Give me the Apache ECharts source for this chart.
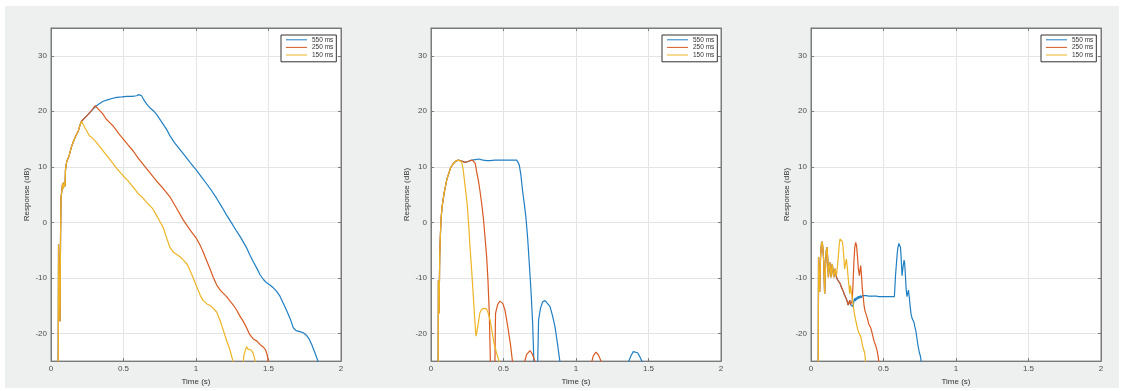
<!DOCTYPE html>
<html>
<head>
<meta charset="utf-8">
<script src="https://cdn.jsdelivr.net/npm/echarts@6/dist/echarts.min.js"></script>
<style>
html,body{margin:0;padding:0;background:#ffffff;}
#bg{position:absolute;left:5px;top:6px;width:1114px;height:382px;background:#eef0f0;}
#chart{position:absolute;left:0;top:0;width:1123px;height:391px;}
</style>
</head>
<body>
<div id="bg"></div>
<div id="chart"></div>
<script>
// ---------- DATA ----------
const seriesNames = ['550 ms', '250 ms', '150 ms'];
const xTicks = [0, 0.5, 1, 1.5, 2];
const yTicks = [-20, -10, 0, 10, 20, 30];

// Panel 1
const p1Rise = [[0.049,-40],[0.052,-4],[0.057,-12],[0.062,-17.8],[0.066,-2],[0.069,4.4],[0.074,5.5],[0.08,7],[0.085,6],[0.09,7.2],[0.097,6.5],[0.1,9.5],[0.108,10.9],[0.115,11.2],[0.125,12],[0.14,13.5],[0.154,14.5],[0.17,15.5],[0.189,16.5],[0.2,17.5],[0.21,18.2]];
const p1_550 = [[0.22,18.5],[0.24,19.0],[0.269,19.8],[0.29,20.4],[0.31,20.9],[0.33,21.3],[0.36,21.8],[0.384,22.0],[0.42,22.3],[0.453,22.5],[0.49,22.6],[0.522,22.7],[0.56,22.7],[0.591,22.8],[0.605,23.0],[0.614,23.2],[0.625,22.8],[0.637,22.2],[0.66,21.3],[0.683,20.6],[0.71,20.0],[0.729,19.4],[0.75,18.6],[0.775,17.6],[0.8,16.6],[0.82,15.6],[0.85,14.4],[0.89,13.1],[0.92,12.1],[0.959,10.8],[1.005,9.3],[1.04,8.1],[1.074,6.9],[1.11,5.6],[1.143,4.3],[1.18,2.7],[1.211,1.3],[1.245,-0.1],[1.28,-1.6],[1.31,-2.8],[1.349,-4.6],[1.37,-5.8],[1.395,-7.1],[1.42,-8.3],[1.441,-9.4],[1.465,-10.3],[1.487,-10.9],[1.51,-11.3],[1.533,-11.8],[1.555,-12.4],[1.579,-13.3],[1.6,-14.5],[1.625,-15.9],[1.65,-17.4],[1.671,-19.0],[1.69,-19.5],[1.717,-19.7],[1.74,-19.9],[1.763,-20.4],[1.78,-21.0],[1.798,-22.0],[1.82,-23.5],[1.844,-25.2],[1.87,-32]];
const p1_250 = [[0.22,18.5],[0.24,19.0],[0.269,19.8],[0.29,20.5],[0.305,21.0],[0.315,20.9],[0.33,20.3],[0.345,19.9],[0.361,19.4],[0.38,18.6],[0.407,17.9],[0.43,17.3],[0.453,16.5],[0.47,15.9],[0.499,15.0],[0.53,14.0],[0.568,12.8],[0.6,11.6],[0.637,10.4],[0.68,9.0],[0.729,7.4],[0.77,6.2],[0.82,4.6],[0.86,2.8],[0.913,0.4],[0.96,-1.4],[1.005,-3.0],[1.03,-4.2],[1.05,-5.4],[1.075,-7.0],[1.097,-8.4],[1.12,-10.0],[1.143,-11.3],[1.17,-12.3],[1.211,-13.4],[1.235,-14.2],[1.257,-14.9],[1.28,-15.8],[1.303,-16.9],[1.325,-17.8],[1.349,-19.0],[1.37,-20.2],[1.395,-21.0],[1.42,-21.4],[1.441,-22.0],[1.465,-22.5],[1.48,-23.0],[1.492,-24],[1.5,-25.5],[1.52,-32]];
const p1_150 = [[0.22,17.9],[0.235,17],[0.246,16.5],[0.265,15.6],[0.28,15.3],[0.292,15.0],[0.31,14.5],[0.338,13.6],[0.37,12.5],[0.407,11.3],[0.45,9.8],[0.5,8.3],[0.53,7.5],[0.568,6.3],[0.6,5.2],[0.63,4.5],[0.66,3.6],[0.7,2.5],[0.729,1.2],[0.75,0.2],[0.775,-1.0],[0.8,-3],[0.82,-4.5],[0.845,-5.4],[0.867,-5.8],[0.89,-6.2],[0.913,-6.8],[0.94,-7.6],[0.959,-8.7],[0.98,-10],[1.005,-11.6],[1.03,-13.2],[1.05,-14.1],[1.075,-14.7],[1.097,-15.0],[1.12,-15.5],[1.143,-16.2],[1.165,-17.6],[1.189,-19.5],[1.21,-21.2],[1.234,-23],[1.26,-25.5],[1.29,-30],[1.32,-27],[1.33,-24],[1.343,-22.8],[1.35,-22.4],[1.36,-22.9],[1.37,-23.2],[1.38,-23.0],[1.395,-23.6],[1.41,-25.2],[1.43,-30]];

// Panel 2
const p2Rise = [[0.049,-40],[0.051,-10.5],[0.056,-16.4],[0.06,-6],[0.068,0],[0.075,2.5],[0.09,5.2],[0.1,6.5],[0.11,7.8],[0.12,8.6],[0.135,9.8],[0.154,10.6],[0.17,11.0],[0.189,11.2]];
const p2_550 = [[0.2,11.2],[0.215,11.0],[0.234,10.8],[0.25,10.9],[0.269,11.1],[0.285,11.2],[0.297,11.3],[0.305,11.3],[0.315,11.5],[0.33,11.4],[0.345,11.3],[0.361,11.2],[0.385,11.1],[0.407,11.1],[0.44,11.2],[0.47,11.2],[0.499,11.2],[0.53,11.2],[0.56,11.2],[0.591,11.2],[0.6,10.8],[0.609,10.3],[0.62,8.5],[0.632,5.6],[0.645,3],[0.655,0.8],[0.667,-3],[0.678,-7.5],[0.69,-12.5],[0.701,-18.2],[0.71,-25.5],[0.72,-40],[0.732,-40],[0.736,-25],[0.742,-17.6],[0.755,-15.5],[0.77,-14.3],[0.786,-14.1],[0.8,-14.5],[0.821,-15.2],[0.838,-16.8],[0.855,-18.8],[0.872,-21.8],[0.89,-25.3],[0.91,-40],[1.34,-40],[1.361,-25.2],[1.38,-24],[1.395,-23.3],[1.407,-23.1],[1.425,-23.5],[1.44,-24.2],[1.46,-25.3],[1.48,-40]];
const p2_250 = [[0.2,11.2],[0.215,11.0],[0.234,10.8],[0.25,10.9],[0.269,11.1],[0.285,11.2],[0.297,11.2],[0.305,10.6],[0.315,9.1],[0.327,7.5],[0.338,5.6],[0.35,3.3],[0.361,0.8],[0.372,-2.5],[0.384,-6.3],[0.393,-10.5],[0.402,-16.4],[0.41,-25.5],[0.42,-40],[0.436,-40],[0.441,-25],[0.445,-16.4],[0.46,-14.8],[0.475,-14.2],[0.483,-14.0],[0.495,-14.6],[0.51,-15.8],[0.522,-17.6],[0.533,-19.4],[0.548,-22],[0.563,-25.3],[0.58,-40],[0.63,-40],[0.644,-25.2],[0.66,-23.8],[0.683,-23.1],[0.7,-23.8],[0.72,-25.3],[0.74,-40],[1.09,-40],[1.108,-25.2],[1.12,-24],[1.138,-23.4],[1.155,-23.9],[1.177,-25.3],[1.2,-40]];
const p2_150 = [[0.2,11.2],[0.211,10.9],[0.222,9.5],[0.234,6.8],[0.25,3.2],[0.26,-0.5],[0.269,-4.5],[0.28,-8.5],[0.292,-13.4],[0.302,-17.5],[0.31,-20.5],[0.318,-19.5],[0.326,-18.2],[0.337,-16.3],[0.349,-15.7],[0.365,-15.5],[0.384,-15.6],[0.395,-16.4],[0.407,-17.6],[0.42,-19.5],[0.434,-21.7],[0.45,-23.3],[0.471,-25.2],[0.49,-32]];

// Panel 3
const p3Rise = [[0.049,-40],[0.052,-6.3],[0.056,-10],[0.06,-12.5],[0.066,-6],[0.072,-3.9],[0.078,-3.5],[0.083,-3.6],[0.088,-7],[0.094,-12.9],[0.1,-8],[0.106,-5],[0.111,-4.5],[0.115,-6.5],[0.12,-9.9],[0.125,-8],[0.129,-7.2],[0.134,-8.5],[0.138,-9.9],[0.143,-8.3],[0.147,-7.5],[0.152,-8.8],[0.157,-9.9],[0.162,-9],[0.166,-8.4],[0.171,-9]];
const p3_550 = [[0.175,-9.8],[0.182,-10.3],[0.19,-10.6],[0.2,-11.0],[0.21,-11.7],[0.216,-11.9],[0.222,-12.4],[0.23,-13.0],[0.236,-12.8],[0.244,-13.8],[0.25,-14.3],[0.256,-14.9],[0.262,-14.5],[0.267,-14.0],[0.272,-14.8],[0.278,-15.0],[0.284,-14.6],[0.29,-15.2],[0.295,-14.3],[0.3,-13.7],[0.305,-14.2],[0.31,-13.6],[0.315,-14.0],[0.32,-13.4],[0.325,-13.8],[0.33,-13.3],[0.335,-13.7],[0.34,-13.2],[0.347,-13.6],[0.354,-13.2],[0.361,-13.5],[0.368,-13.2],[0.375,-13.5],[0.382,-13.2],[0.389,-13.5],[0.396,-13.3],[0.403,-13.5],[0.41,-13.3],[0.417,-13.5],[0.424,-13.3],[0.431,-13.5],[0.438,-13.3],[0.445,-13.5],[0.452,-13.3],[0.459,-13.5],[0.466,-13.4],[0.473,-13.5],[0.48,-13.4],[0.49,-13.5],[0.51,-13.4],[0.54,-13.4],[0.575,-13.4],[0.578,-12],[0.583,-9.5],[0.589,-7.5],[0.595,-5.5],[0.6,-4.5],[0.606,-3.8],[0.612,-3.5],[0.617,-4.5],[0.622,-6.5],[0.628,-9.6],[0.635,-8.0],[0.642,-6.8],[0.646,-7.4],[0.651,-9.5],[0.656,-12],[0.662,-13.4],[0.667,-12.8],[0.672,-12.2],[0.678,-13.5],[0.684,-15.2],[0.69,-16.5],[0.697,-17.3],[0.705,-17.3],[0.71,-18],[0.716,-18.8],[0.722,-19.4],[0.73,-20.8],[0.737,-22.1],[0.748,-23.5],[0.755,-24.2],[0.762,-25.3],[0.775,-35]];
const p3_250 = [[0.175,-9.8],[0.182,-10.3],[0.19,-10.6],[0.2,-11.0],[0.21,-11.7],[0.216,-11.9],[0.222,-12.4],[0.23,-13.0],[0.236,-12.8],[0.244,-13.8],[0.25,-14.3],[0.256,-14.9],[0.262,-14.5],[0.267,-14.0],[0.272,-14.8],[0.278,-15.0],[0.284,-14.2],[0.29,-11],[0.296,-7],[0.302,-4.5],[0.308,-3.6],[0.314,-4.2],[0.32,-6],[0.327,-8.5],[0.334,-9.6],[0.339,-8.4],[0.343,-7.8],[0.348,-9.5],[0.354,-12],[0.36,-13.4],[0.366,-15],[0.372,-15.9],[0.378,-16.4],[0.385,-17.0],[0.392,-17.6],[0.398,-18.3],[0.405,-18.6],[0.412,-19.0],[0.42,-19.8],[0.428,-20.7],[0.436,-21.5],[0.446,-22.2],[0.455,-23.0],[0.462,-24],[0.469,-25.3],[0.48,-35]];
const p3_150 = [[0.175,-9.6],[0.182,-8],[0.189,-6.0],[0.195,-4],[0.2,-3.0],[0.206,-2.7],[0.212,-2.8],[0.217,-3.5],[0.221,-4.5],[0.227,-6.5],[0.232,-8.4],[0.238,-7.5],[0.244,-6.6],[0.25,-8],[0.256,-9.9],[0.262,-11.5],[0.267,-12.9],[0.272,-11.4],[0.278,-12.5],[0.286,-14.0],[0.297,-16.1],[0.305,-17.2],[0.313,-18.2],[0.322,-19.3],[0.332,-20.0],[0.338,-20.3],[0.343,-20.6],[0.35,-21.5],[0.359,-22.6],[0.37,-23.5],[0.377,-25.2],[0.39,-35]];

// ---------- CHART ----------
const colors = ['#1f7fc4', '#d95a22', '#eeb425'];
const panels = [
  { rise: p1Rise, data: [p1_550, p1_250, p1_150] },
  { rise: p2Rise, data: [p2_550, p2_250, p2_150] },
  { rise: p3Rise, data: [p3_550, p3_250, p3_150] }
];
const gridLefts = [51, 431, 811];
const legendLefts = [281, 662, 1041];
const gridTop = 28, gridW = 290, gridH = 337;
const axisColor = '#7a7a7a';
const labelColor = '#4d4d4d';
const font = 'Liberation Sans, Arial, Helvetica, sans-serif';

const grid = [], xAxis = [], yAxis = [], series = [], legend = [];
panels.forEach((p, i) => {
  grid.push({ left: gridLefts[i], top: gridTop, width: gridW, height: gridH,
    show: true, backgroundColor: '#ffffff', borderColor: axisColor, borderWidth: 1, containLabel: false });
  const baseX = {
    type: 'value', gridIndex: i, min: xTicks[0], max: xTicks[xTicks.length - 1], interval: 0.5,
    axisLine: { show: true, onZero: false, lineStyle: { color: axisColor, width: 1 } },
    axisTick: { show: true, inside: true, length: 3, lineStyle: { color: axisColor } }
  };
  xAxis.push(Object.assign({}, baseX, {
    position: 'bottom', name: 'Time (s)', nameLocation: 'middle', nameGap: 12,
    nameTextStyle: { fontSize: 8, color: '#333', fontFamily: font },
    axisLabel: { show: true, fontSize: 8, color: labelColor, margin: 4, fontFamily: font,
      formatter: v => xTicks.includes(v) ? String(v) : '' },
    splitLine: { show: true, lineStyle: { color: '#e4e4e4', width: 1 } }
  }));
  xAxis.push(Object.assign({}, baseX, {
    position: 'top', axisLabel: { show: false }, splitLine: { show: false }
  }));
  const baseY = {
    type: 'value', gridIndex: i, min: -25, max: 35, splitNumber: 6,
    axisLine: { show: true, onZero: false, lineStyle: { color: axisColor, width: 1 } },
    axisTick: { show: true, inside: true, length: 3, lineStyle: { color: axisColor } }
  };
  yAxis.push(Object.assign({}, baseY, {
    position: 'left', name: 'Response (dB)', nameLocation: 'middle', nameGap: 20,
    nameTextStyle: { fontSize: 8, color: '#333', fontFamily: font },
    axisLabel: { show: true, fontSize: 8, color: labelColor, margin: 4, fontFamily: font,
      showMinLabel: false, showMaxLabel: false,
      formatter: v => yTicks.includes(v) ? String(v) : '' },
    splitLine: { show: true, lineStyle: { color: '#e4e4e4', width: 1 } }
  }));
  yAxis.push(Object.assign({}, baseY, {
    position: 'right', axisLabel: { show: false }, splitLine: { show: false }
  }));
  p.data.forEach((d, k) => {
    series.push({
      type: 'line', name: seriesNames[k], xAxisIndex: 2 * i, yAxisIndex: 2 * i,
      data: p.rise.concat(d), showSymbol: false, symbol: 'none', clip: true,
      lineStyle: { color: colors[k], width: 1.2 }, itemStyle: { color: colors[k] },
      emphasis: { disabled: true }, animation: false, z: 2 + k
    });
  });
  legend.push({
    show: true, orient: 'vertical', left: legendLefts[i], top: 35,
    data: seriesNames, icon: 'rect', itemWidth: 21, itemHeight: 1, itemGap: 0, itemTextGap: 3,
    padding: [1, 3, 3, 5], borderColor: '#333', borderWidth: 1, backgroundColor: '#ffffff',
    selectedMode: false,
    textStyle: { fontSize: 6.5, color: '#333', lineHeight: 7.6, fontFamily: font }
  });
});

const chart = echarts.init(document.getElementById('chart'), null, { renderer: 'canvas' });
chart.setOption({
  backgroundColor: 'transparent', animation: false,
  grid, xAxis, yAxis, series, legend
});
</script>
</body>
</html>
